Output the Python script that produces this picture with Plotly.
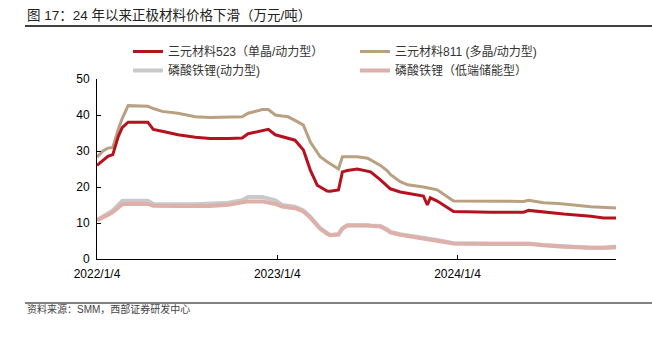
import plotly.graph_objects as go

dates = ["2022-01-04","2022-01-16","2022-01-26","2022-02-05","2022-02-16","2022-02-24","2022-03-08",
         "2022-04-17","2022-04-28","2022-05-16","2022-06-17","2022-07-22","2022-08-21","2022-09-27",
         "2022-10-25","2022-11-06","2022-12-05","2022-12-17","2022-12-31","2023-01-14","2023-01-26",
         "2023-02-09","2023-02-26","2023-03-12","2023-03-26","2023-04-01","2023-04-15","2023-04-21",
         "2023-05-08","2023-05-16","2023-05-26","2023-06-15","2023-07-06","2023-07-12","2023-08-01",
         "2023-08-15","2023-08-21","2023-09-10","2023-09-25","2023-10-27","2023-11-04","2023-11-10",
         "2023-11-24","2023-12-27","2024-03-11","2024-05-17","2024-05-27","2024-06-26","2024-07-25",
         "2024-08-06","2024-09-30","2024-10-26","2024-11-20"]

ncm523 = [26,27.5,28.5,29,34,36.5,38,38,36,35.5,34.5,33.8,33.5,33.5,33.6,34.8,35.6,36,34.5,34,33.5,
          33,30.3,24.7,20.5,20,18.9,18.8,19.2,24.2,24.6,25,24.5,24.2,22,20.3,19.5,18.6,18.2,17.5,15,17,
          16.1,13.2,13,13,13.5,13,12.7,12.5,11.9,11.4,11.4]
ncm811 = [28.3,30,30.8,31,36,39,42.6,42.4,41.8,41,40.5,39.5,39.3,39.3,39.5,40.5,41.5,41.5,40,39.7,39.5,
          38.5,37.2,32.5,29.5,28.4,27,26.5,25,28.4,28.4,28.4,28,27.5,26,24.5,23.5,21.5,20.6,20,19.8,19.6,
          19.2,16.1,16,16,16.3,15.6,15.4,15.3,14.5,14.3,14.2]
lfp_power = [10.8,11.8,12.5,13.5,15,16.1,16.2,16.2,15.3,15.2,15.2,15.2,15.3,15.6,16.3,17.2,17.2,16.8,16.3,
             15,14.8,14.5,13.5,11.7,9.5,8.6,7.2,6.7,6.9,8.5,9.4,9.5,9.4,9.3,9.2,8.2,7.5,6.9,6.6,5.9,5.7,
             5.6,5.3,4.4,4.3,4.3,4.3,3.9,3.6,3.5,3.1,3.1,3.2]
lfp_storage = [10.8,11.5,12.2,13,14.5,15.2,15.3,15.3,14.8,14.7,14.7,14.7,14.7,15.1,15.8,16,16,15.7,15.3,
               14.6,14.4,14.1,13.2,11.5,9.3,8.4,7.0,6.6,6.8,8.5,9.3,9.4,9.3,9.2,9.0,8.0,7.4,6.7,6.4,5.7,
               5.5,5.4,5.1,4.3,4.2,4.2,4.2,3.8,3.5,3.4,3.1,3.1,3.4]

names = ["三元材料523（单晶/动力型）", "三元材料811 (多晶/动力型)", "磷酸铁锂(动力型)", "磷酸铁锂（低端储能型）"]
colors = ["#B5121F", "#B8A080", "#C9C9C9", "#DDB0AA"]
widths = [3, 3, 4, 4]
legend_ids = ["legend", "legend2", "legend", "legend2"]
tick_vals = ["2022-01-04", "2023-01-04", "2024-01-04"]
tick_text = ["2022/1/4", "2023/1/4", "2024/1/4"]

FONT = "Liberation Sans, Noto Sans CJK SC, sans-serif"

fig = go.Figure()
series = [ncm523, ncm811, lfp_power, lfp_storage]
for idx in [2, 3, 1, 0]:
    fig.add_trace(go.Scatter(x=dates, y=series[idx], mode="lines", name=names[idx],
                             line=dict(color=colors[idx], width=widths[idx]),
                             legend=legend_ids[idx], legendrank=idx + 1))

legend_common = dict(orientation="v", yanchor="top", xanchor="left", tracegroupgap=0,
                     font=dict(size=12, color="#333333"), bgcolor="rgba(0,0,0,0)",
                     itemwidth=30)
fig.update_layout(
    width=652, height=339,
    margin=dict(l=97, r=36, t=79, b=80),
    plot_bgcolor="white", paper_bgcolor="white",
    font=dict(family=FONT, size=12, color="#000000"),
    showlegend=True,
    legend=dict(x=(128 - 97) / 519, y=(259 - 37) / 180, **legend_common),
    legend2=dict(x=(355 - 97) / 519, y=(259 - 37) / 180, **legend_common),
    xaxis=dict(type="date", range=["2022-01-04", "2024-11-20"], tickvals=tick_vals,
               ticktext=tick_text, ticks="inside", ticklen=4, tickcolor="#000",
               showline=True, linecolor="#000", linewidth=1, showgrid=False, zeroline=False,
               ticklabelstandoff=4, tickfont=dict(size=12, color="#000")),
    yaxis=dict(range=[0, 50], dtick=10, ticks="inside", ticklen=4, tickcolor="#000",
               showline=True, linecolor="#000", linewidth=1, showgrid=False, zeroline=False,
               ticklabelstandoff=4, tickfont=dict(size=12, color="#000")),
    annotations=[
        dict(text="图 17：24 年以来正极材料价格下滑（万元/吨）", x=(25 - 97) / 519, y=(259 - 16) / 180,
             xref="paper", yref="paper", xanchor="left", yanchor="middle", showarrow=False,
             font=dict(size=13.5, color="#222222", family=FONT)),
        dict(text="资料来源：SMM，西部证券研发中心", x=(25 - 97) / 519, y=(259 - 309) / 180,
             xref="paper", yref="paper", xanchor="left", yanchor="middle", showarrow=False,
             font=dict(size=10, color="#444444", family=FONT)),
    ],
    shapes=[
        dict(type="line", xref="paper", yref="paper", x0=(25 - 97) / 519, x1=(652 - 97) / 519,
             y0=(259 - 26) / 180, y1=(259 - 26) / 180, line=dict(color="#000", width=1.5)),
        dict(type="line", xref="paper", yref="paper", x0=(25 - 97) / 519, x1=(652 - 97) / 519,
             y0=(259 - 303) / 180, y1=(259 - 303) / 180, line=dict(color="#000", width=1)),
    ],
)

fig.write_html("out.html")
